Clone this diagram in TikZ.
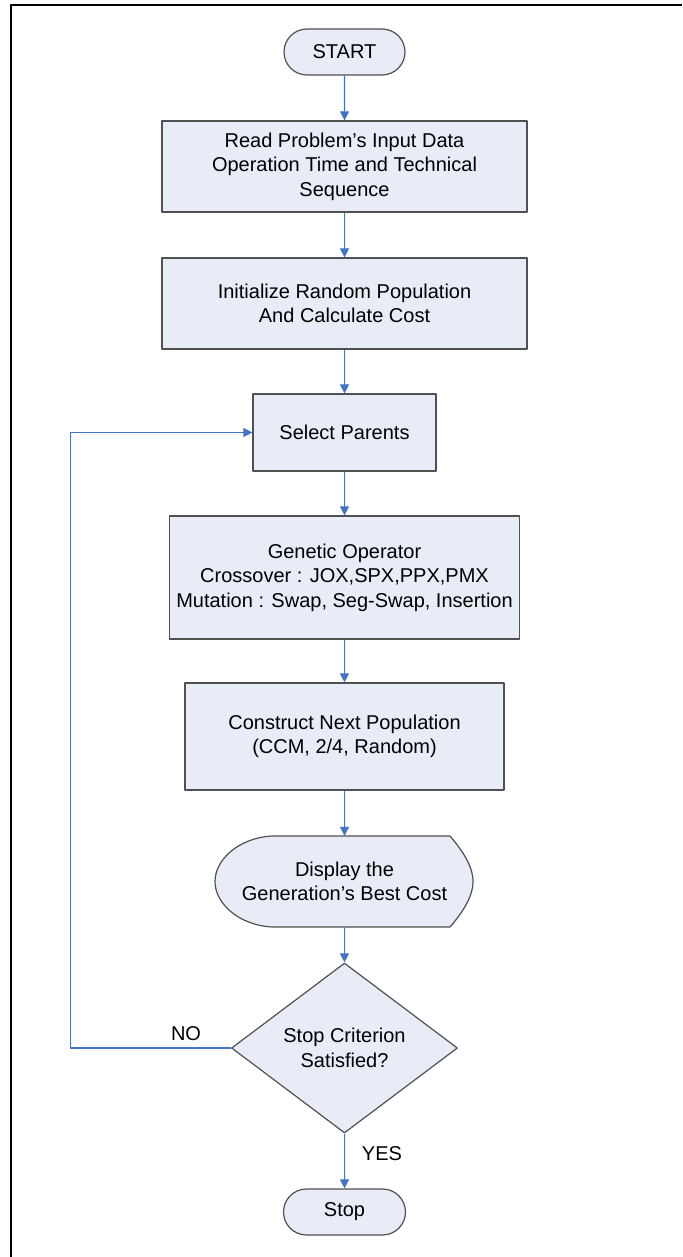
\documentclass[tikz,border=0pt]{standalone}
\usepackage{fontspec}
\setmainfont{Liberation Sans}
\usetikzlibrary{arrows.meta,shapes.geometric,shapes.misc}
\definecolor{boxfill}{RGB}{231,236,246}
\definecolor{boxedge}{RGB}{80,80,80}
\definecolor{flowblue}{RGB}{68,114,196}

\begin{document}
\begin{tikzpicture}[x=1pt,y=-1pt,>={Triangle[length=9pt,width=9pt]},line join=round,
		font=\fontsize{20}{24.5}\selectfont,
		box/.style={draw=boxedge,fill=boxfill,line width=1.2pt,align=center,inner sep=0pt},
		term/.style={box,rounded rectangle,minimum width=121pt,minimum height=46pt},
		proc/.style={box,rectangle},
		flow/.style={->,draw=flowblue,line width=1.1pt}]
		\useasboundingbox (0,0) rectangle (682,1257);
		\draw[line width=2pt] (682,5)--(11,5)--(11,1257);
		
		\node[term] (start) at (344.5,52) {START};
		\node[proc,minimum width=365pt,minimum height=91pt] (read) at (344.5,166.5)
		{Read Problem’s Input Data\\Operation Time and Technical\\Sequence};
		\node[proc,minimum width=365pt,minimum height=91pt] (init) at (344.5,303.5)
		{Initialize Random Population\\And Calculate Cost};
		\node[proc,minimum width=183pt,minimum height=77pt] (select) at (344.5,432.5) {Select Parents};
		\node[proc,minimum width=350pt,minimum height=123pt] (genop) at (344.5,577.5)
		{Genetic Operator\\Crossover : JOX,SPX,PPX,PMX\\Mutation : Swap, Seg-Swap, Insertion};
		\node[proc,minimum width=319pt,minimum height=107pt] (construct) at (344.5,736.5)
		{Construct Next Population\\(CCM, 2/4, Random)};
		
		% display symbol
		\path[box] (272,836) -- (450,836) .. controls (462,850) and (473,866) .. (473,881.5)
		.. controls (473,897) and (462,913) .. (450,927) -- (272,927)
		.. controls (238,925) and (215,903) .. (215,881.5)
		.. controls (215,860) and (238,838) .. cycle;
		\node[align=center,minimum width=258pt,minimum height=91pt,inner sep=0pt] (disp) at (344.5,881.5)
		{Display the\\Generation’s Best Cost};
		
		\node[box,diamond,aspect=1.33,minimum width=226pt,minimum height=170pt] (crit) at (344.5,1048)
		{Stop Criterion\\Satisfied?};
		\node[term,minimum width=122pt] (stop) at (344.5,1212) {Stop};
		\node (no) at (186,1034) {NO};
		\node (yes) at (382,1154) {YES};
		\coordinate (back) at (70.5,1048);
		
		\draw[flow] (start)--(read);
		\draw[flow] (read)--(init);
		\draw[flow] (init)--(select);
		\draw[flow] (select)--(genop);
		\draw[flow] (genop)--(construct);
		\draw[flow] (construct)--(disp.north);
		\draw[flow] (disp.south)--(crit);
		\draw[flow] (crit)--(stop);
		\draw[flow] (crit.west)--(back)|-(select.west);
\end{tikzpicture}
\end{document}
